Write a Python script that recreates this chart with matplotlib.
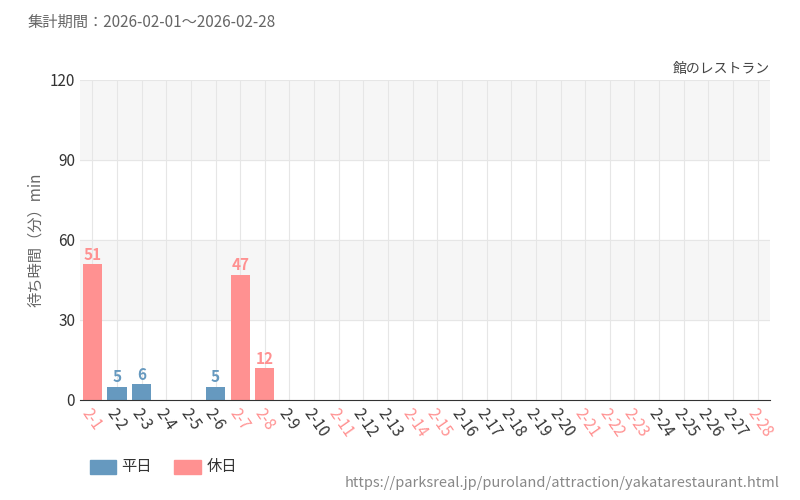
import numpy as np
import matplotlib.pyplot as plt

plt.rcParams['font.family'] = ['Noto Sans CJK JP', 'DejaVu Sans']

days = [f"2-{d}" for d in range(1, 29)]
holidays = ["2-1", "2-7", "2-8", "2-11", "2-14", "2-15", "2-21", "2-22", "2-23", "2-28"]
weekday_vals = {"2-2": 5, "2-3": 6, "2-6": 5}
holiday_vals = {"2-1": 51, "2-7": 47, "2-8": 12}

blue = "#6699bf"
red = "#ff9191"

fig = plt.figure(figsize=(8, 5), dpi=100)
ax = fig.add_axes([0.1, 0.2, 0.8625, 0.64])
x = np.arange(len(days))
ax.set_xlim(-0.5, len(days) - 0.5)
ax.set_ylim(0, 120)
ax.axhspan(90, 120, color="#f6f6f6", zorder=0)
ax.axhspan(30, 60, color="#f6f6f6", zorder=0)
for xi in x:
    ax.axvline(xi, color="#e6e6e6", lw=0.8, zorder=1)
for yv in [30, 60, 90, 120]:
    ax.axhline(yv, color="#e6e6e6", lw=0.8, zorder=1)

for d, v in weekday_vals.items():
    i = days.index(d)
    ax.bar(i, v, width=0.78, color=blue, zorder=2)
    ax.text(i, v + 0.5, str(v), ha="center", va="bottom", color=blue, fontsize=11, fontweight="bold")
for d, v in holiday_vals.items():
    i = days.index(d)
    ax.bar(i, v, width=0.78, color=red, zorder=2)
    ax.text(i, v + 0.5, str(v), ha="center", va="bottom", color=red, fontsize=11, fontweight="bold")

ax.set_yticks([0, 30, 60, 90, 120])
ax.tick_params(axis="y", length=0, labelsize=11, colors="#333333")
ax.set_xticks(x)
ax.set_xticklabels(days, rotation=-55, ha="left", rotation_mode="anchor", fontsize=11)
for lbl, d in zip(ax.get_xticklabels(), days):
    lbl.set_color(red if d in holidays else "#333333")
ax.tick_params(axis="x", length=0, pad=4)
for s in ["top", "right", "left"]:
    ax.spines[s].set_visible(False)
ax.spines["bottom"].set_color("#333333")
ax.set_ylabel("待ち時間（分）min", color="#666666", fontsize=11)

fig.text(0.035, 0.955, "集計期間：2026-02-01～2026-02-28", fontsize=11, color="#666666", va="center")
fig.text(0.9625, 0.863, "館のレストラン", fontsize=10, color="#444444", ha="right", va="center")
fig.patches.append(plt.Rectangle((0.112, 0.052), 0.033, 0.028, color=blue, transform=fig.transFigure))
fig.text(0.152, 0.066, "平日", fontsize=11, color="#333333", va="center")
fig.patches.append(plt.Rectangle((0.218, 0.052), 0.033, 0.028, color=red, transform=fig.transFigure))
fig.text(0.258, 0.066, "休日", fontsize=11, color="#333333", va="center")
fig.text(0.975, 0.035, "https://parksreal.jp/puroland/attraction/yakatarestaurant.html",
         fontsize=10.5, color="#888888", ha="right", va="center")

fig.savefig("out.png")
